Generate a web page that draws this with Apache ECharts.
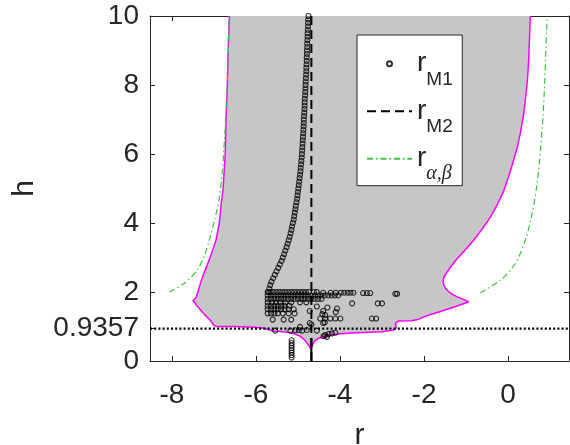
<!DOCTYPE html>
<html>
<head>
<meta charset="utf-8">
<script src="https://cdn.jsdelivr.net/npm/echarts@6/dist/echarts.min.js"></script>
<style>
  html, body { margin: 0; padding: 0; background: #fff; }
  #chart { width: 570px; height: 445px; }
</style>
</head>
<body>
<div id="chart"></div>
<script>
// Axis ranges and ticks
const xMin = -8.52, xMax = 1.45;
const yMin = 0, yMax = 10;
const xTicks = [-8, -6, -4, -2, 0];
const yTicks = [0, 0.9357, 2, 4, 6, 8, 10];
const hStar = 0.9357;       // critical height (dotted line)
const rM2 = -4.68;          // r_M2, constant in h
const rM2SolidTop = 0.66;   // r_M2 drawn solid below this height

// r_M1 main branch (h from 10 down to 2)
const traceH = [10.0, 9.9, 9.8, 9.7, 9.6, 9.5, 9.4, 9.3, 9.2, 9.1,
  9.0, 8.9, 8.8, 8.7, 8.6, 8.5, 8.4, 8.3, 8.2, 8.1,
  8.0, 7.9, 7.8, 7.7, 7.6, 7.5, 7.4, 7.3, 7.2, 7.1,
  7.0, 6.9, 6.8, 6.7, 6.6, 6.5, 6.4, 6.3, 6.2, 6.1,
  6.0, 5.9, 5.8, 5.7, 5.6, 5.5, 5.4, 5.3, 5.2, 5.1,
  5.0, 4.9, 4.8, 4.7, 4.6, 4.5, 4.4, 4.3, 4.2, 4.1,
  4.0, 3.9, 3.8, 3.7, 3.6, 3.5, 3.4, 3.3, 3.2, 3.1,
  3.0, 2.9, 2.8, 2.7, 2.6, 2.5, 2.4, 2.3, 2.2, 2.1, 2.0];
const traceR = [-4.75, -4.755, -4.76, -4.76, -4.765, -4.77, -4.77, -4.775, -4.78, -4.78,
  -4.785, -4.785, -4.79, -4.79, -4.795, -4.80, -4.80, -4.805, -4.81, -4.815,
  -4.82, -4.82, -4.825, -4.83, -4.835, -4.84, -4.84, -4.845, -4.85, -4.855,
  -4.86, -4.86, -4.865, -4.87, -4.875, -4.88, -4.885, -4.89, -4.895, -4.90,
  -4.905, -4.91, -4.92, -4.925, -4.935, -4.94, -4.95, -4.96, -4.97, -4.98,
  -4.99, -5.00, -5.01, -5.02, -5.035, -5.05, -5.06, -5.075, -5.09, -5.10,
  -5.12, -5.14, -5.155, -5.175, -5.195, -5.22, -5.245, -5.27, -5.30, -5.33,
  -5.36, -5.39, -5.43, -5.47, -5.51, -5.55, -5.59, -5.63, -5.66, -5.68, -5.70];

// r_M1 scattered roots at low h
const clusterR = [
  -5.72, -5.65, -5.58, -5.51, -5.44, -5.37, -5.30, -5.23, -5.16, -5.09, -5.02, -4.95, -4.88, -4.81, -4.74, -4.62, -4.55, -4.40, -4.22, -4.10, -3.98, -3.90, -3.82, -3.75, -3.68, -3.45, -3.36, -3.28, -2.68, -2.64,
  -5.72, -5.64, -5.56, -5.48, -5.40, -5.32, -5.24, -5.16, -5.08, -5.00, -4.92, -4.84, -4.76, -4.68, -4.60, -4.52, -4.44, -4.36, -4.28, -4.20, -4.12, -4.04,
  -5.72, -5.64, -5.56, -5.48, -5.40, -5.32, -5.24, -5.16, -5.08, -5.00, -4.92, -4.84, -4.76, -4.68, -4.60, -4.52, -4.44,
  -5.72, -5.62, -5.52, -5.42, -5.30, -5.16, -4.95, -4.80, -3.71, -3.10, -3.00,
  -5.72, -5.64, -5.56, -5.48, -5.40, -5.32, -5.20, -4.55, -4.30, -4.07,
  -5.72, -5.64, -5.56, -5.48, -5.40, -5.32, -5.22, -5.10, -4.72, -4.40, -4.10,
  -5.72, -5.64, -5.56, -5.48, -5.36, -5.22, -5.08, -4.42, -4.35,
  -5.60, -5.34, -5.16, -4.47, -4.35, -4.23, -4.11, -3.99, -3.24, -3.14,
  -4.72, -4.68, -4.40, -4.36, -4.95,
  -5.54, -5.18, -5.06, -4.98, -4.90, -4.79, -4.55,
  -4.39, -4.35, -4.31, -4.27, -4.19, -4.11,
  -5.15, -5.15, -5.15, -5.15, -5.15, -5.15, -5.15, -5.15];
const clusterH = [
  2.0, 2.0, 2.0, 2.0, 2.0, 2.0, 2.0, 2.0, 2.0, 2.0, 2.0, 2.0, 2.0, 2.0, 2.0, 2.0, 2.0, 1.98, 1.98, 1.98, 1.98, 1.98, 1.98, 1.98, 1.98, 1.97, 1.97, 1.97, 1.95, 1.95,
  1.9, 1.9, 1.9, 1.9, 1.9, 1.9, 1.9, 1.9, 1.9, 1.9, 1.9, 1.9, 1.9, 1.9, 1.9, 1.9, 1.9, 1.9, 1.9, 1.9, 1.9, 1.9,
  1.8, 1.8, 1.8, 1.8, 1.8, 1.8, 1.8, 1.8, 1.8, 1.8, 1.8, 1.8, 1.8, 1.8, 1.8, 1.8, 1.8,
  1.7, 1.7, 1.7, 1.7, 1.7, 1.7, 1.7, 1.7, 1.67, 1.67, 1.67,
  1.6, 1.6, 1.6, 1.6, 1.6, 1.6, 1.6, 1.58, 1.55, 1.52,
  1.5, 1.5, 1.5, 1.5, 1.5, 1.5, 1.5, 1.5, 1.45, 1.45, 1.42,
  1.38, 1.38, 1.38, 1.38, 1.38, 1.38, 1.38, 1.36, 1.33,
  1.2, 1.2, 1.2, 1.23, 1.23, 1.23, 1.23, 1.23, 1.23, 1.23,
  1.1, 1.06, 1.1, 1.12, 0.99,
  0.88, 0.88, 0.89, 0.9, 0.88, 0.9, 0.88,
  0.72, 0.75, 0.7, 0.78, 0.8, 0.82,
  0.1, 0.17, 0.24, 0.31, 0.38, 0.45, 0.52, 0.6];

// Boundary of the admissible region (left side, bottom, right side)
const boundR = [-6.63, -6.66, -6.68, -6.71, -6.73, -6.78, -6.83, -6.87, -6.95, -7.02, -7.09, -7.17, -7.25, -7.32, -7.38, -7.42, -7.50, -7.45, -7.42, -7.33, -7.21, -7.09, -7.01, -6.95,
  -6.5, -6.0, -5.8, -5.6, -5.3, -5.1, -4.95, -4.85, -4.77, -4.71, -4.69,
  -4.66, -4.60, -4.50, -4.30, -4.00, -3.60, -3.00, -2.72, -2.66, -2.68, -2.60, -2.30, -2.15, -2.00, -1.80, -1.50, -1.20, -0.94,
  -1.05, -1.21, -1.35, -1.45, -1.52, -1.55, -1.53, -1.45, -1.34, -1.21, -1.02, -0.82, -0.62, -0.42, -0.25, -0.10, 0.02, 0.13, 0.22, 0.29, 0.36, 0.41, 0.46, 0.49, 0.51, 0.53];
const boundH = [10, 9, 8, 7, 6, 5, 4.5, 4, 3.5, 3.25, 3.0, 2.75, 2.5, 2.25, 2.0, 1.85, 1.74, 1.70, 1.62, 1.50, 1.33, 1.19, 1.05, 1.0,
  1.0, 0.98, 0.95, 0.87, 0.84, 0.80, 0.72, 0.62, 0.50, 0.38, 0.32,
  0.45, 0.58, 0.66, 0.74, 0.79, 0.82, 0.85, 0.90, 0.96, 1.10, 1.16, 1.17, 1.20, 1.28, 1.36, 1.48, 1.60, 1.71,
  1.78, 1.86, 1.95, 2.05, 2.17, 2.29, 2.42, 2.58, 2.77, 2.97, 3.22, 3.5, 3.82, 4.17, 4.55, 4.94, 5.37, 5.81, 6.2, 6.59, 7.07, 7.55, 8.13, 8.71, 9.35, 10];

// r_{alpha,beta} branches
const abLeftR = [-8.06, -7.72, -7.40, -7.21, -7.09, -6.98, -6.88, -6.80, -6.74, -6.70, -6.67, -6.65, -6.64];
const abLeftH = [2.0, 2.24, 2.63, 3.1, 3.59, 4.1, 4.65, 5.5, 6.58, 7.5, 8.5, 9.3, 10];
const abRightR = [-0.66, -0.18, 0.17, 0.41, 0.57, 0.69, 0.77, 0.83, 0.87, 0.90, 0.93];
const abRightH = [1.98, 2.34, 2.82, 3.5, 4.27, 5.13, 6.1, 7.06, 8.03, 9.0, 10];

const zip = (a, b) => a.map((v, i) => [v, b[i]]);
const FONT = '"Liberation Sans", Arial, Helvetica, sans-serif';
const INK = '#262626';
const NO_SYMBOL = { color: 'rgba(0,0,0,0)', borderWidth: 0, opacity: 0 };

const chart = echarts.init(document.getElementById('chart'), null, { renderer: 'canvas' });

const boxAxis = (pos, ticks, min, max) => ({
  type: 'value', position: pos, min: min, max: max,
  axisLine: { show: true, onZero: false, lineStyle: { color: INK, width: 1 } },
  axisTick: { show: true, inside: true, length: 5, customValues: ticks, lineStyle: { color: INK, width: 1 } },
  axisLabel: { show: false },
  splitLine: { show: false }
});

chart.setOption({
  animation: false,
  backgroundColor: '#fff',
  grid: { left: 150, top: 16, width: 419, height: 345, containLabel: false, outerBoundsMode: 'none' },
  xAxis: [{
    type: 'value', position: 'bottom', min: xMin, max: xMax,
    axisLine: { show: true, onZero: false, lineStyle: { color: INK, width: 1 } },
    axisTick: { show: true, inside: true, length: 5, customValues: xTicks, lineStyle: { color: INK, width: 1 } },
    axisLabel: { customValues: xTicks, fontSize: 28, color: INK, fontFamily: FONT, margin: 20 },
    splitLine: { show: false },
    name: 'r', nameLocation: 'middle', nameGap: 60, nameMoveOverlap: false,
    nameTextStyle: { fontSize: 30, color: INK, fontFamily: FONT }
  }, boxAxis('top', xTicks, xMin, xMax)],
  yAxis: [{
    type: 'value', position: 'left', min: yMin, max: yMax,
    axisLine: { show: true, onZero: false, lineStyle: { color: INK, width: 1 } },
    axisTick: { show: true, inside: true, length: 5, customValues: yTicks, lineStyle: { color: INK, width: 1 } },
    axisLabel: { customValues: yTicks, fontSize: 28, color: INK, fontFamily: FONT, margin: 11, padding: [6, 0, 0, 0] },
    splitLine: { show: false },
    name: 'h', nameLocation: 'middle', nameGap: 110, nameMoveOverlap: false,
    nameTextStyle: { fontSize: 30, color: INK, fontFamily: FONT }
  }, boxAxis('right', [0, 2, 4, 6, 8, 10], yMin, yMax)],
  legend: {
    orient: 'vertical', left: 357, top: 35,
    padding: [14.7, 9, 1.5, 9],
    itemWidth: 45, itemHeight: 5, itemGap: 8,
    backgroundColor: '#fff', borderColor: INK, borderWidth: 1, borderRadius: 0,
    selectedMode: false,
    data: [
      { name: 'rM1', icon: 'circle' },
      { name: 'rM2', itemStyle: NO_SYMBOL },
      { name: 'rAB', itemStyle: NO_SYMBOL }
    ],
    formatter: function (name) {
      if (name === 'rM1') return '{b|r}{s|M1}{z| }';
      if (name === 'rM2') return '{b|r}{s|M2}{z| }';
      return '{b|r}{g|α,β}{z| }';
    },
    textStyle: {
      color: INK,
      rich: {
        b: { fontSize: 28, lineHeight: 28, fontFamily: FONT, color: INK, verticalAlign: 'middle' },
        s: { fontSize: 19, lineHeight: 19, fontFamily: FONT, color: INK, verticalAlign: 'bottom' },
        g: { fontSize: 20, lineHeight: 19, fontFamily: '"Liberation Serif", "Times New Roman", serif', fontStyle: 'italic', color: INK, verticalAlign: 'bottom' },
        z: { fontSize: 2, lineHeight: 51, verticalAlign: 'middle' }
      }
    }
  },
  series: [
    {
      // shaded admissible region
      type: 'custom', name: 'region', silent: true, clip: true, z: 1,
      data: [[boundR[0], boundH[0]]],
      renderItem: function (params, api) {
        const pts = boundR.map((r, i) => api.coord([r, boundH[i]]));
        return { type: 'polygon', shape: { points: pts }, style: { fill: '#c6c6c6', stroke: null } };
      }
    },
    {
      type: 'line', name: 'boundary', data: zip(boundR, boundH), symbol: 'none', z: 3,
      lineStyle: { color: '#ff00ff', width: 1.5 }, silent: true
    },
    {
      type: 'line', name: 'rAB', data: zip(abLeftR, abLeftH), symbol: 'none', smooth: 0.3, z: 4,
      lineStyle: { color: '#3cc43c', width: 1.2, type: [6, 3, 1.5, 3] }, itemStyle: { color: '#3cc43c' }
    },
    {
      type: 'line', name: 'rAB', data: zip(abRightR, abRightH), symbol: 'none', smooth: 0.3, z: 4,
      lineStyle: { color: '#3cc43c', width: 1.2, type: [6, 3, 1.5, 3] }, itemStyle: { color: '#3cc43c' }
    },
    {
      type: 'line', name: 'hstar', data: [[xMin, hStar], [xMax, hStar]], symbol: 'none', z: 5,
      lineStyle: { color: '#000', width: 2.2, type: [2, 2.2] }, silent: true
    },
    {
      type: 'line', name: 'rM2', data: [[rM2, yMin], [rM2, yMax]], symbol: 'none', z: 5,
      lineStyle: { color: '#000', width: 2, type: [9, 5] }, itemStyle: { color: '#000' }
    },
    {
      type: 'line', name: 'rM2base', data: [[rM2, yMin], [rM2, rM2SolidTop]], symbol: 'none', z: 5,
      lineStyle: { color: '#000', width: 2 }, silent: true
    },
    {
      type: 'scatter', name: 'rM1', z: 6,
      data: zip(traceR, traceH).concat(zip(clusterR, clusterH)),
      symbol: 'circle', symbolSize: 5,
      itemStyle: { color: 'rgba(0,0,0,0)', borderColor: '#000', borderWidth: 1.1 }
    }
  ]
});
</script>
</body>
</html>
